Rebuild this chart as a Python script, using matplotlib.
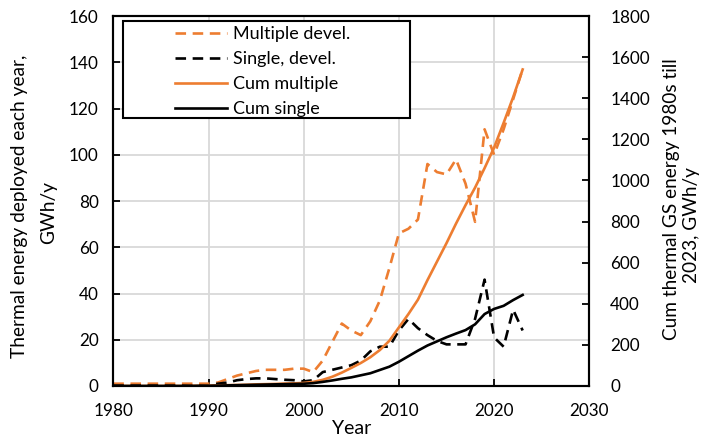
import matplotlib
matplotlib.use("Agg")
import matplotlib.pyplot as plt
from matplotlib.patches import Rectangle

plt.rcParams['font.family'] = ['Lato', 'DejaVu Sans']

years = list(range(1980, 2024))

multiple_devel = [1, 1, 1, 1, 1, 1, 1, 1, 1, 1, 1,
                  1.5, 3, 4.5, 5.5, 6.5, 7, 7, 7, 7.5, 7.5,
                  6, 11, 19, 27, 24, 22, 28, 37, 51, 66,
                  68, 72, 96, 92.5, 91.5, 98, 87.5, 71, 111, 100,
                  111, 124, 137]

single_devel = [0.3] * 11 + [1, 1.5, 2.5, 3, 3.3, 3.3, 3, 2.7, 2.5, 2,
                             2.5, 6, 7, 8, 9, 11, 15, 17, 17, 24,
                             29, 25, 22, 19.5, 18, 18, 18, 29, 46, 21,
                             17, 33, 24]

cum_multiple = [0, 0, 0, 0, 0, 0, 0, 0, 1, 1, 2,
                3, 4, 5, 6, 8, 9, 10, 12, 13, 15,
                20, 30, 45, 65, 88, 112, 140, 175, 220, 285,
                350, 420, 515, 605, 695, 790, 880, 965, 1060, 1160,
                1280, 1405, 1540]

cum_single = [0, 0, 0, 0, 0, 0, 0, 0, 0, 1, 1,
              2, 3, 4, 5, 6, 7, 8, 9, 10, 11,
              14, 20, 27, 35, 42, 52, 62, 78, 94, 118,
              145, 172, 197, 217, 237, 255, 272, 300, 350, 375,
              390, 418, 443]

labels = ["Multiple devel.", "Single, devel.", "Cum multiple", "Cum single"]
x_ticks = [1980, 1990, 2000, 2010, 2020, 2030]
left_ticks = list(range(0, 161, 20))
right_ticks = list(range(0, 1801, 200))

orange = "#ED7D31"
W, H = 714, 441

fig = plt.figure(figsize=(7.14, 4.41), dpi=100)
ax = fig.add_axes([113.3 / W, 1 - 386 / H, (589.3 - 113.3) / W, (386 - 16) / H])
ax2 = ax.twinx()

dash = (0, (4.0, 2.5))
l1, = ax.plot(years, multiple_devel, color=orange, lw=1.9, linestyle=dash)
l2, = ax.plot(years, single_devel, color="black", lw=1.9, linestyle=dash)
l3, = ax2.plot(years, cum_multiple, color=orange, lw=1.9)
l4, = ax2.plot(years, cum_single, color="black", lw=1.9)

ax.set_xlim(1980, 2030)
ax.set_ylim(0, 160)
ax2.set_ylim(0, 1800)
ax.set_xticks(x_ticks)
ax.set_yticks(left_ticks)
ax2.set_yticks(right_ticks)

ax.grid(True, color="#d9d9d9", lw=1.3)
ax.set_axisbelow(True)

for a in (ax, ax2):
    for s in a.spines.values():
        s.set_linewidth(1.5)
        s.set_color("black")

ax.tick_params(axis='both', direction='in', length=5, width=1.3, labelsize=12.3)
ax.tick_params(axis='y', pad=10.5)
ax.tick_params(axis='x', pad=12)
ax2.tick_params(axis='y', direction='in', length=5, width=1.3, labelsize=12.3, pad=15)

# axis titles
fig.text(352 / W, 1 - 429 / H, "Year", fontsize=14, ha='center', va='center')
fig.text(20 / W, 1 - 206 / H, "Thermal energy deployed each year,", fontsize=13.8,
         rotation=90, ha='center', va='center')
fig.text(49 / W, 1 - 213 / H, "GWh/y", fontsize=13.8, rotation=90, ha='center', va='center')
fig.text(671 / W, 1 - 199 / H, "Cum thermal GS energy 1980s till", fontsize=13.7,
         rotation=90, ha='center', va='center')
fig.text(691.5 / W, 1 - 225 / H, "2023, GWh/y", fontsize=13.7, rotation=90, ha='center', va='center')

# legend box
rect = Rectangle((122.7 / W, 1 - 118.3 / H), (410 - 122.7) / W, (118.3 - 20.7) / H,
                 transform=fig.transFigure, facecolor="white", edgecolor="black", lw=1.5, zorder=5)
fig.patches.append(rect)
leg = fig.legend([l1, l2, l3, l4], labels, loc="upper left",
                 bbox_to_anchor=(166 / W, 1 - 17 / H), frameon=False,
                 fontsize=13, handlelength=2.9, handletextpad=0.3,
                 labelspacing=0.5, borderpad=0.0)
leg.set_zorder(6)

fig.savefig("out.png", dpi=100)
